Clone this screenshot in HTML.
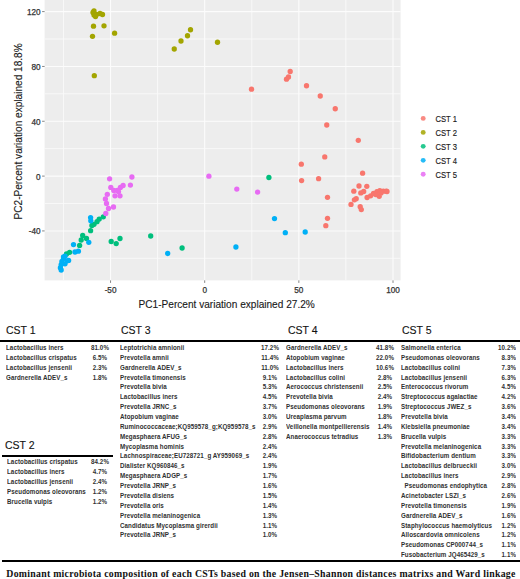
<!DOCTYPE html>
<html><head><meta charset="utf-8"><style>
html,body{margin:0;padding:0;background:#fff;}
body{width:520px;height:579px;position:relative;overflow:hidden;font-family:"Liberation Sans",sans-serif;}
svg{position:absolute;left:0;top:0;}
.tk{font-family:"Liberation Sans",sans-serif;font-size:8.2px;fill:#333;stroke:#333;stroke-width:0.25px;}
.at{font-family:"Liberation Sans",sans-serif;font-size:10.1px;fill:#1a1a1a;stroke:#1a1a1a;stroke-width:0.12px;}
.lg{font-family:"Liberation Sans",sans-serif;font-size:9px;fill:#1a1a1a;stroke:#1a1a1a;stroke-width:0.15px;}
.h{position:absolute;font-size:11.3px;line-height:12px;color:#111;-webkit-text-stroke:0.12px #111;transform:scaleX(0.93);white-space:nowrap;transform-origin:0 0;}
.r,.p{position:absolute;font-size:8px;letter-spacing:0.1px;line-height:9px;font-weight:bold;color:#303030;white-space:nowrap;transform-origin:0 0;}
.r{transform:scaleX(0.775);}
.pc{width:40px;text-align:center;transform:scaleX(0.775);transform-origin:20px 0;}
.pr{width:40px;text-align:right;transform:scaleX(0.775);transform-origin:40px 0;}
.ln{position:absolute;background:#000;}
.cap{position:absolute;left:6.3px;top:569px;letter-spacing:0.28px;font-family:"Liberation Serif",serif;font-weight:bold;font-size:9.8px;line-height:10px;color:#111;white-space:nowrap;}
</style></head><body>
<svg width="520" height="320" viewBox="0 0 520 320">
<rect x="44.6" y="-5" width="356.0" height="285.4" fill="#EDEDED"/>
<line x1="63.47" y1="-5" x2="63.47" y2="280.4" stroke="#F9F9F9" stroke-width="0.9"/>
<line x1="157.62" y1="-5" x2="157.62" y2="280.4" stroke="#F9F9F9" stroke-width="0.9"/>
<line x1="251.77" y1="-5" x2="251.77" y2="280.4" stroke="#F9F9F9" stroke-width="0.9"/>
<line x1="345.92" y1="-5" x2="345.92" y2="280.4" stroke="#F9F9F9" stroke-width="0.9"/>
<line x1="44.6" y1="39.02" x2="400.6" y2="39.02" stroke="#F9F9F9" stroke-width="0.9"/>
<line x1="44.6" y1="93.85" x2="400.6" y2="93.85" stroke="#F9F9F9" stroke-width="0.9"/>
<line x1="44.6" y1="148.68" x2="400.6" y2="148.68" stroke="#F9F9F9" stroke-width="0.9"/>
<line x1="44.6" y1="203.52" x2="400.6" y2="203.52" stroke="#F9F9F9" stroke-width="0.9"/>
<line x1="44.6" y1="258.35" x2="400.6" y2="258.35" stroke="#F9F9F9" stroke-width="0.9"/>
<line x1="110.55" y1="-5" x2="110.55" y2="280.4" stroke="#FCFCFC" stroke-width="1.1"/>
<line x1="204.70" y1="-5" x2="204.70" y2="280.4" stroke="#FCFCFC" stroke-width="1.1"/>
<line x1="298.85" y1="-5" x2="298.85" y2="280.4" stroke="#FCFCFC" stroke-width="1.1"/>
<line x1="393.00" y1="-5" x2="393.00" y2="280.4" stroke="#FCFCFC" stroke-width="1.1"/>
<line x1="44.6" y1="11.60" x2="400.6" y2="11.60" stroke="#FCFCFC" stroke-width="1.1"/>
<line x1="44.6" y1="66.44" x2="400.6" y2="66.44" stroke="#FCFCFC" stroke-width="1.1"/>
<line x1="44.6" y1="121.27" x2="400.6" y2="121.27" stroke="#FCFCFC" stroke-width="1.1"/>
<line x1="44.6" y1="176.10" x2="400.6" y2="176.10" stroke="#FCFCFC" stroke-width="1.1"/>
<line x1="44.6" y1="230.93" x2="400.6" y2="230.93" stroke="#FCFCFC" stroke-width="1.1"/>
<line x1="42.1" y1="11.60" x2="44.6" y2="11.60" stroke="#333" stroke-width="0.6"/>
<text x="40.6" y="15.10" text-anchor="end" class="tk">120</text>
<line x1="42.1" y1="66.44" x2="44.6" y2="66.44" stroke="#333" stroke-width="0.6"/>
<text x="40.6" y="69.94" text-anchor="end" class="tk">80</text>
<line x1="42.1" y1="121.27" x2="44.6" y2="121.27" stroke="#333" stroke-width="0.6"/>
<text x="40.6" y="124.77" text-anchor="end" class="tk">40</text>
<line x1="42.1" y1="176.10" x2="44.6" y2="176.10" stroke="#333" stroke-width="0.6"/>
<text x="40.6" y="179.60" text-anchor="end" class="tk">0</text>
<line x1="42.1" y1="230.93" x2="44.6" y2="230.93" stroke="#333" stroke-width="0.6"/>
<text x="40.6" y="234.43" text-anchor="end" class="tk">-40</text>
<line x1="110.55" y1="280.4" x2="110.55" y2="282.9" stroke="#333" stroke-width="0.6"/>
<text x="110.55" y="292.90" text-anchor="middle" class="tk">-50</text>
<line x1="204.70" y1="280.4" x2="204.70" y2="282.9" stroke="#333" stroke-width="0.6"/>
<text x="204.70" y="292.90" text-anchor="middle" class="tk">0</text>
<line x1="298.85" y1="280.4" x2="298.85" y2="282.9" stroke="#333" stroke-width="0.6"/>
<text x="298.85" y="292.90" text-anchor="middle" class="tk">50</text>
<line x1="393.00" y1="280.4" x2="393.00" y2="282.9" stroke="#333" stroke-width="0.6"/>
<text x="393.00" y="292.90" text-anchor="middle" class="tk">100</text>
<circle cx="93" cy="12.5" r="2.65" fill="#A3A500"/>
<circle cx="94" cy="15" r="2.65" fill="#A3A500"/>
<circle cx="96.5" cy="14.5" r="2.65" fill="#A3A500"/>
<circle cx="100" cy="13.5" r="2.65" fill="#A3A500"/>
<circle cx="102.5" cy="14.5" r="2.65" fill="#A3A500"/>
<circle cx="94" cy="11" r="2.65" fill="#A3A500"/>
<circle cx="95.5" cy="16.5" r="2.65" fill="#A3A500"/>
<circle cx="93.5" cy="26.2" r="2.65" fill="#A3A500"/>
<circle cx="104" cy="25.8" r="2.65" fill="#A3A500"/>
<circle cx="114.6" cy="33.2" r="2.65" fill="#A3A500"/>
<circle cx="92.5" cy="36.3" r="2.65" fill="#A3A500"/>
<circle cx="94.3" cy="75.7" r="2.65" fill="#A3A500"/>
<circle cx="174.25" cy="49" r="2.65" fill="#A3A500"/>
<circle cx="181" cy="41" r="2.65" fill="#A3A500"/>
<circle cx="187.5" cy="35.75" r="2.65" fill="#A3A500"/>
<circle cx="190.5" cy="29.75" r="2.65" fill="#A3A500"/>
<circle cx="217.5" cy="42.25" r="2.65" fill="#A3A500"/>
<circle cx="251.5" cy="89.2" r="2.65" fill="#F8766D"/>
<circle cx="290.2" cy="71.5" r="2.65" fill="#F8766D"/>
<circle cx="286.5" cy="79.2" r="2.65" fill="#F8766D"/>
<circle cx="288.5" cy="77" r="2.65" fill="#F8766D"/>
<circle cx="306.5" cy="85.75" r="2.65" fill="#F8766D"/>
<circle cx="320.25" cy="96" r="2.65" fill="#F8766D"/>
<circle cx="335.25" cy="108.75" r="2.65" fill="#F8766D"/>
<circle cx="326.75" cy="125" r="2.65" fill="#F8766D"/>
<circle cx="358.3" cy="140.3" r="2.65" fill="#F8766D"/>
<circle cx="324.75" cy="156.9" r="2.65" fill="#F8766D"/>
<circle cx="301.3" cy="164.2" r="2.65" fill="#F8766D"/>
<circle cx="362.6" cy="173.2" r="2.65" fill="#F8766D"/>
<circle cx="301.6" cy="180.6" r="2.65" fill="#F8766D"/>
<circle cx="318.6" cy="178.7" r="2.65" fill="#F8766D"/>
<circle cx="327.5" cy="197.3" r="2.65" fill="#F8766D"/>
<circle cx="327.5" cy="218.3" r="2.65" fill="#F8766D"/>
<circle cx="325.8" cy="225.7" r="2.65" fill="#F8766D"/>
<circle cx="359" cy="186" r="2.65" fill="#F8766D"/>
<circle cx="366.8" cy="186.3" r="2.65" fill="#F8766D"/>
<circle cx="353.8" cy="191.2" r="2.65" fill="#F8766D"/>
<circle cx="360.8" cy="192.9" r="2.65" fill="#F8766D"/>
<circle cx="363.7" cy="191.5" r="2.65" fill="#F8766D"/>
<circle cx="356.2" cy="198.7" r="2.65" fill="#F8766D"/>
<circle cx="354.4" cy="199.8" r="2.65" fill="#F8766D"/>
<circle cx="351" cy="204.4" r="2.65" fill="#F8766D"/>
<circle cx="360.2" cy="206.7" r="2.65" fill="#F8766D"/>
<circle cx="361.3" cy="209.6" r="2.65" fill="#F8766D"/>
<circle cx="367.1" cy="197.5" r="2.65" fill="#F8766D"/>
<circle cx="370.6" cy="195.8" r="2.65" fill="#F8766D"/>
<circle cx="373.5" cy="193.5" r="2.65" fill="#F8766D"/>
<circle cx="376.9" cy="191.7" r="2.65" fill="#F8766D"/>
<circle cx="379.8" cy="190.6" r="2.65" fill="#F8766D"/>
<circle cx="383.3" cy="191.2" r="2.65" fill="#F8766D"/>
<circle cx="386.2" cy="191.2" r="2.65" fill="#F8766D"/>
<circle cx="379.2" cy="196.3" r="2.65" fill="#F8766D"/>
<circle cx="375.8" cy="194.6" r="2.65" fill="#F8766D"/>
<circle cx="381" cy="192.9" r="2.65" fill="#F8766D"/>
<circle cx="387" cy="191.5" r="2.65" fill="#F8766D"/>
<circle cx="268.9" cy="177.5" r="2.65" fill="#00BF7D"/>
<circle cx="150.7" cy="236" r="2.65" fill="#00BF7D"/>
<circle cx="182.1" cy="248" r="2.65" fill="#00BF7D"/>
<circle cx="111.2" cy="241.5" r="2.65" fill="#00BF7D"/>
<circle cx="116.2" cy="243.6" r="2.65" fill="#00BF7D"/>
<circle cx="120" cy="238.5" r="2.65" fill="#00BF7D"/>
<circle cx="103.3" cy="216.8" r="2.65" fill="#00BF7D"/>
<circle cx="99.2" cy="219.1" r="2.65" fill="#00BF7D"/>
<circle cx="97" cy="221.7" r="2.65" fill="#00BF7D"/>
<circle cx="94" cy="224.3" r="2.65" fill="#00BF7D"/>
<circle cx="91.9" cy="225.4" r="2.65" fill="#00BF7D"/>
<circle cx="90.6" cy="230.7" r="2.65" fill="#00BF7D"/>
<circle cx="82.7" cy="235.4" r="2.65" fill="#00BF7D"/>
<circle cx="81.2" cy="240" r="2.65" fill="#00BF7D"/>
<circle cx="86.5" cy="238.5" r="2.65" fill="#00BF7D"/>
<circle cx="79.6" cy="245.4" r="2.65" fill="#00BF7D"/>
<circle cx="69.6" cy="252.3" r="2.65" fill="#00BF7D"/>
<circle cx="66.5" cy="254" r="2.65" fill="#00BF7D"/>
<circle cx="274.5" cy="218.6" r="2.65" fill="#00B0F6"/>
<circle cx="285.3" cy="232.7" r="2.65" fill="#00B0F6"/>
<circle cx="305.2" cy="232" r="2.65" fill="#00B0F6"/>
<circle cx="235.9" cy="247" r="2.65" fill="#00B0F6"/>
<circle cx="167.7" cy="253.5" r="2.65" fill="#00B0F6"/>
<circle cx="90.6" cy="217.6" r="2.65" fill="#00B0F6"/>
<circle cx="90.8" cy="220.8" r="2.65" fill="#00B0F6"/>
<circle cx="73.5" cy="244.6" r="2.65" fill="#00B0F6"/>
<circle cx="88.8" cy="242.3" r="2.65" fill="#00B0F6"/>
<circle cx="78.4" cy="251.2" r="2.65" fill="#00B0F6"/>
<circle cx="75" cy="252" r="2.65" fill="#00B0F6"/>
<circle cx="65" cy="256.2" r="2.65" fill="#00B0F6"/>
<circle cx="68.6" cy="260.4" r="2.65" fill="#00B0F6"/>
<circle cx="63.5" cy="258.5" r="2.65" fill="#00B0F6"/>
<circle cx="67.3" cy="260.8" r="2.65" fill="#00B0F6"/>
<circle cx="61.9" cy="261.5" r="2.65" fill="#00B0F6"/>
<circle cx="61.2" cy="264.6" r="2.65" fill="#00B0F6"/>
<circle cx="65" cy="263.8" r="2.65" fill="#00B0F6"/>
<circle cx="60.4" cy="267.7" r="2.65" fill="#00B0F6"/>
<circle cx="61.2" cy="270" r="2.65" fill="#00B0F6"/>
<circle cx="63.5" cy="257" r="2.65" fill="#00B0F6"/>
<circle cx="208.9" cy="176.2" r="2.65" fill="#E76BF3"/>
<circle cx="236.8" cy="189.1" r="2.65" fill="#E76BF3"/>
<circle cx="257.6" cy="192.1" r="2.65" fill="#E76BF3"/>
<circle cx="109.6" cy="178.8" r="2.65" fill="#E76BF3"/>
<circle cx="131.9" cy="177" r="2.65" fill="#E76BF3"/>
<circle cx="130.4" cy="185.1" r="2.65" fill="#E76BF3"/>
<circle cx="123.1" cy="185.5" r="2.65" fill="#E76BF3"/>
<circle cx="120.4" cy="187.4" r="2.65" fill="#E76BF3"/>
<circle cx="110.8" cy="187.4" r="2.65" fill="#E76BF3"/>
<circle cx="113.8" cy="190.5" r="2.65" fill="#E76BF3"/>
<circle cx="117.3" cy="190.5" r="2.65" fill="#E76BF3"/>
<circle cx="115" cy="195.8" r="2.65" fill="#E76BF3"/>
<circle cx="120" cy="195.8" r="2.65" fill="#E76BF3"/>
<circle cx="107.3" cy="194.3" r="2.65" fill="#E76BF3"/>
<circle cx="105.4" cy="198.9" r="2.65" fill="#E76BF3"/>
<circle cx="106.5" cy="203.5" r="2.65" fill="#E76BF3"/>
<circle cx="113.5" cy="207" r="2.65" fill="#E76BF3"/>
<circle cx="108.5" cy="208.5" r="2.65" fill="#E76BF3"/>
<circle cx="105.8" cy="213.5" r="2.65" fill="#E76BF3"/>
<circle cx="118.5" cy="191.6" r="2.65" fill="#E76BF3"/>
<text x="226.7" y="308" text-anchor="middle" class="at">PC1-Percent variation explained 27.2%</text>
<text transform="translate(21.5,131.4) rotate(-90)" text-anchor="middle" class="at">PC2-Percent variation explained 18.8%</text>
<circle cx="423.2" cy="118.40" r="2.45" fill="#F8766D" fill-opacity="0.85"/>
<text transform="translate(435.4,121.80) scale(0.85,1)" class="lg">CST 1</text>
<circle cx="423.2" cy="132.38" r="2.45" fill="#A3A500" fill-opacity="0.85"/>
<text transform="translate(435.4,135.78) scale(0.85,1)" class="lg">CST 2</text>
<circle cx="423.2" cy="146.36" r="2.45" fill="#00BF7D" fill-opacity="0.85"/>
<text transform="translate(435.4,149.76) scale(0.85,1)" class="lg">CST 3</text>
<circle cx="423.2" cy="160.34" r="2.45" fill="#00B0F6" fill-opacity="0.85"/>
<text transform="translate(435.4,163.74) scale(0.85,1)" class="lg">CST 4</text>
<circle cx="423.2" cy="174.32" r="2.45" fill="#E76BF3" fill-opacity="0.85"/>
<text transform="translate(435.4,177.72) scale(0.85,1)" class="lg">CST 5</text>
</svg>
<div class="h" style="left:5.8px;top:324px">CST 1</div>
<div class="h" style="left:121px;top:324px">CST 3</div>
<div class="h" style="left:287.8px;top:324px">CST 4</div>
<div class="h" style="left:401.8px;top:324px">CST 5</div>
<div class="h" style="left:4.8px;top:439px">CST 2</div>
<div class="ln" style="left:0;top:340.2px;width:520px;height:2px"></div>
<div class="ln" style="left:2.1px;top:454.5px;width:110.5px;height:2.2px"></div>
<div class="ln" style="left:2.3px;top:560.2px;width:517.7px;height:1.7px"></div>
<div class="r" style="left:5.8px;top:342.90px">Lactobacillus iners</div>
<div class="p pc" style="left:80px;top:342.90px">81.0%</div>
<div class="r" style="left:5.8px;top:352.77px">Lactobacillus crispatus</div>
<div class="p pc" style="left:80px;top:352.77px">6.5%</div>
<div class="r" style="left:5.8px;top:362.64px">Lactobacillus jensenii</div>
<div class="p pc" style="left:80px;top:362.64px">2.3%</div>
<div class="r" style="left:5.8px;top:372.51px">Gardnerella ADEV_s</div>
<div class="p pc" style="left:80px;top:372.51px">1.8%</div>
<div class="r" style="left:6.6px;top:457.30px">Lactobacillus crispatus</div>
<div class="p pc" style="left:80px;top:457.30px">84.2%</div>
<div class="r" style="left:6.6px;top:467.17px">Lactobacillus iners</div>
<div class="p pc" style="left:80px;top:467.17px">4.7%</div>
<div class="r" style="left:6.6px;top:477.04px">Lactobacillus jensenii</div>
<div class="p pc" style="left:80px;top:477.04px">2.4%</div>
<div class="r" style="left:6.6px;top:486.91px">Pseudomonas oleovorans</div>
<div class="p pc" style="left:80px;top:486.91px">1.2%</div>
<div class="r" style="left:6.6px;top:496.78px">Brucella vulpis</div>
<div class="p pc" style="left:80px;top:496.78px">1.2%</div>
<div class="r" style="left:120px;top:342.90px">Leptotrichia amnionii</div>
<div class="p pc" style="left:250px;top:342.90px">17.2%</div>
<div class="r" style="left:120px;top:352.77px">Prevotella amnii</div>
<div class="p pc" style="left:250px;top:352.77px">11.4%</div>
<div class="r" style="left:120px;top:362.64px">Gardnerella ADEV_s</div>
<div class="p pc" style="left:250px;top:362.64px">11.0%</div>
<div class="r" style="left:120px;top:372.51px">Prevotella timonensis</div>
<div class="p pc" style="left:250px;top:372.51px">9.1%</div>
<div class="r" style="left:120px;top:382.38px">Prevotella bivia</div>
<div class="p pc" style="left:250px;top:382.38px">5.3%</div>
<div class="r" style="left:120px;top:392.25px">Lactobacillus iners</div>
<div class="p pc" style="left:250px;top:392.25px">4.5%</div>
<div class="r" style="left:120px;top:402.12px">Prevotella JRNC_s</div>
<div class="p pc" style="left:250px;top:402.12px">3.7%</div>
<div class="r" style="left:120px;top:411.99px">Atopobium vaginae</div>
<div class="p pc" style="left:250px;top:411.99px">3.0%</div>
<div class="r" style="left:120px;top:421.86px">Ruminococcaceae;KQ959578_g;KQ959578_s</div>
<div class="p pc" style="left:250px;top:421.86px">2.9%</div>
<div class="r" style="left:120px;top:431.73px">Megasphaera AFUG_s</div>
<div class="p pc" style="left:250px;top:431.73px">2.8%</div>
<div class="r" style="left:120px;top:441.60px">Mycoplasma hominis</div>
<div class="p pc" style="left:250px;top:441.60px">2.4%</div>
<div class="r" style="left:120px;top:451.47px">Lachnospiraceae;EU728721_g AY959069_s</div>
<div class="p pc" style="left:250px;top:451.47px">2.4%</div>
<div class="r" style="left:120px;top:461.34px">Dialister KQ960846_s</div>
<div class="p pc" style="left:250px;top:461.34px">1.9%</div>
<div class="r" style="left:120px;top:471.21px">Megasphaera ADGP_s</div>
<div class="p pc" style="left:250px;top:471.21px">1.7%</div>
<div class="r" style="left:120px;top:481.08px">Prevotella JRNP_s</div>
<div class="p pc" style="left:250px;top:481.08px">1.6%</div>
<div class="r" style="left:120px;top:490.95px">Prevotella disiens</div>
<div class="p pc" style="left:250px;top:490.95px">1.5%</div>
<div class="r" style="left:120px;top:500.82px">Prevotella oris</div>
<div class="p pc" style="left:250px;top:500.82px">1.4%</div>
<div class="r" style="left:120px;top:510.69px">Prevotella melaninogenica</div>
<div class="p pc" style="left:250px;top:510.69px">1.3%</div>
<div class="r" style="left:120px;top:520.56px">Candidatus Mycoplasma girerdii</div>
<div class="p pc" style="left:250px;top:520.56px">1.1%</div>
<div class="r" style="left:120px;top:530.43px">Prevotella JRNP_s</div>
<div class="p pc" style="left:250px;top:530.43px">1.0%</div>
<div class="r" style="left:286.2px;top:342.90px">Gardnerella ADEV_s</div>
<div class="p pc" style="left:365px;top:342.90px">41.8%</div>
<div class="r" style="left:286.2px;top:352.77px">Atopobium vaginae</div>
<div class="p pc" style="left:365px;top:352.77px">22.0%</div>
<div class="r" style="left:286.2px;top:362.64px">Lactobacillus iners</div>
<div class="p pc" style="left:365px;top:362.64px">10.6%</div>
<div class="r" style="left:286.2px;top:372.51px">Lactobacillus colini</div>
<div class="p pc" style="left:365px;top:372.51px">2.8%</div>
<div class="r" style="left:286.2px;top:382.38px">Aerococcus christensenii</div>
<div class="p pc" style="left:365px;top:382.38px">2.5%</div>
<div class="r" style="left:286.2px;top:392.25px">Prevotella bivia</div>
<div class="p pc" style="left:365px;top:392.25px">2.4%</div>
<div class="r" style="left:286.2px;top:402.12px">Pseudomonas oleovorans</div>
<div class="p pc" style="left:365px;top:402.12px">1.9%</div>
<div class="r" style="left:286.2px;top:411.99px">Ureaplasma parvum</div>
<div class="p pc" style="left:365px;top:411.99px">1.8%</div>
<div class="r" style="left:286.2px;top:421.86px">Veillonella montpellierensis</div>
<div class="p pc" style="left:365px;top:421.86px">1.4%</div>
<div class="r" style="left:286.2px;top:431.73px">Anaerococcus tetradius</div>
<div class="p pc" style="left:365px;top:431.73px">1.3%</div>
<div class="r" style="left:401.2px;top:342.90px">Salmonella enterica</div>
<div class="p pr" style="left:476px;top:342.90px">10.2%</div>
<div class="r" style="left:401.2px;top:352.77px">Pseudomonas oleovorans</div>
<div class="p pr" style="left:476px;top:352.77px">8.3%</div>
<div class="r" style="left:401.2px;top:362.64px">Lactobacillus colini</div>
<div class="p pr" style="left:476px;top:362.64px">7.3%</div>
<div class="r" style="left:401.2px;top:372.51px">Lactobacillus jensenii</div>
<div class="p pr" style="left:476px;top:372.51px">6.3%</div>
<div class="r" style="left:401.2px;top:382.38px">Enterococcus rivorum</div>
<div class="p pr" style="left:476px;top:382.38px">4.5%</div>
<div class="r" style="left:401.2px;top:392.25px">Streptococcus agalactiae</div>
<div class="p pr" style="left:476px;top:392.25px">4.2%</div>
<div class="r" style="left:401.2px;top:402.12px">Streptococcus JWEZ_s</div>
<div class="p pr" style="left:476px;top:402.12px">3.6%</div>
<div class="r" style="left:401.2px;top:411.99px">Prevotella bivia</div>
<div class="p pr" style="left:476px;top:411.99px">3.4%</div>
<div class="r" style="left:401.2px;top:421.86px">Klebsiella pneumoniae</div>
<div class="p pr" style="left:476px;top:421.86px">3.4%</div>
<div class="r" style="left:401.2px;top:431.73px">Brucella vulpis</div>
<div class="p pr" style="left:476px;top:431.73px">3.3%</div>
<div class="r" style="left:401.2px;top:441.60px">Prevotella melaninogenica</div>
<div class="p pr" style="left:476px;top:441.60px">3.3%</div>
<div class="r" style="left:401.2px;top:451.47px">Bifidobacterium dentium</div>
<div class="p pr" style="left:476px;top:451.47px">3.3%</div>
<div class="r" style="left:401.2px;top:461.34px">Lactobacillus delbrueckii</div>
<div class="p pr" style="left:476px;top:461.34px">3.0%</div>
<div class="r" style="left:401.2px;top:471.21px">Lactobacillus iners</div>
<div class="p pr" style="left:476px;top:471.21px">2.9%</div>
<div class="r" style="left:401.2px;top:481.08px">  Pseudomonas endophytica</div>
<div class="p pr" style="left:476px;top:481.08px">2.8%</div>
<div class="r" style="left:401.2px;top:490.95px">Acinetobacter LSZI_s</div>
<div class="p pr" style="left:476px;top:490.95px">2.6%</div>
<div class="r" style="left:401.2px;top:500.82px">Prevotella timonensis</div>
<div class="p pr" style="left:476px;top:500.82px">1.9%</div>
<div class="r" style="left:401.2px;top:510.69px">Gardnerella ADEV_s</div>
<div class="p pr" style="left:476px;top:510.69px">1.6%</div>
<div class="r" style="left:401.2px;top:520.56px">Staphylococcus haemolyticus</div>
<div class="p pr" style="left:476px;top:520.56px">1.2%</div>
<div class="r" style="left:401.2px;top:530.43px">Alloscardovia omnicolens</div>
<div class="p pr" style="left:476px;top:530.43px">1.2%</div>
<div class="r" style="left:401.2px;top:540.30px">Pseudomonas CP000744_s</div>
<div class="p pr" style="left:476px;top:540.30px">1.1%</div>
<div class="r" style="left:401.2px;top:550.17px">Fusobacterium JQ465429_s</div>
<div class="p pr" style="left:476px;top:550.17px">1.1%</div>
<div class="cap">Dominant microbiota composition of each CSTs based on the Jensen–Shannon distances matrixs and Ward linkage</div>
</body></html>
